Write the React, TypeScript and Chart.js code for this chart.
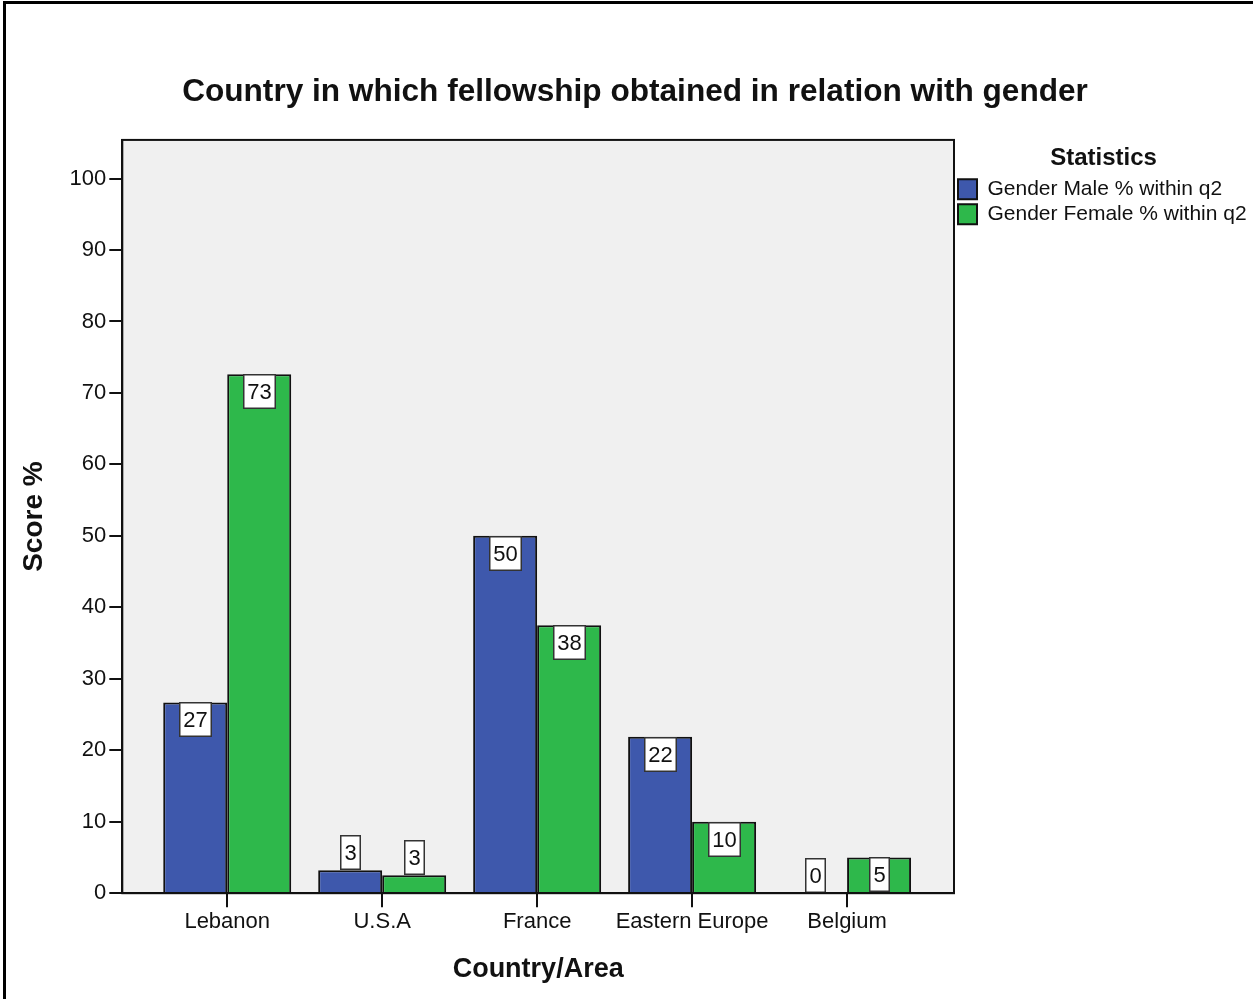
import React, { useEffect, useRef } from "react";
import { Chart, registerables } from "chart.js";

Chart.register(...registerables);

const categories = ["Lebanon", "U.S.A", "France", "Eastern Europe", "Belgium"];
const maleValues = [26.7, 3.2, 50.0, 21.9, 0];
const femaleValues = [72.6, 2.5, 37.5, 10.0, 5.0];
const seriesNames = ["Gender Male % within q2", "Gender Female % within q2"];
const yTicks = [0, 10, 20, 30, 40, 50, 60, 70, 80, 90, 100];

const FONT = "'Liberation Sans', Arial, sans-serif";

const plotFrame = {
  id: "plotFrame",
  beforeDraw(chart: any) {
    const { ctx, chartArea } = chart;
    ctx.save();
    ctx.fillStyle = "#F0F0F0";
    ctx.fillRect(chartArea.left, chartArea.top, chartArea.right - chartArea.left, chartArea.bottom - chartArea.top);
    ctx.restore();
  },
  afterDraw(chart: any) {
    const { ctx, chartArea } = chart;
    ctx.save();
    ctx.strokeStyle = "#111";
    ctx.lineWidth = 2;
    ctx.strokeRect(chartArea.left, chartArea.top, chartArea.right - chartArea.left, chartArea.bottom - chartArea.top);
    ctx.restore();
  },
};

const valueBoxes = {
  id: "valueBoxes",
  afterDatasetsDraw(chart: any) {
    const { ctx } = chart;
    ctx.save();
    ctx.font = `22px ${FONT}`;
    ctx.textAlign = "center";
    ctx.textBaseline = "middle";
    chart.data.datasets.forEach((ds: any, di: number) => {
      const meta = chart.getDatasetMeta(di);
      meta.data.forEach((el: any, i: number) => {
        const v = ds.data[i].y;
        const text = String(Math.round(v));
        const w = Math.round(ctx.measureText(text).width + 9);
        const h = 35;
        const barH = el.base - el.y;
        const top = barH >= h - 1 ? Math.round(el.y) : Math.round(el.y - h);
        const left = Math.round(el.x - w / 2);
        ctx.fillStyle = "#FFFFFF";
        ctx.fillRect(left, top, w, h);
        ctx.strokeStyle = "#333";
        ctx.lineWidth = 1.5;
        ctx.strokeRect(left + 0.75, top + 0.75, w - 1.5, h - 1.5);
        ctx.fillStyle = "#111";
        ctx.fillText(text, left + w / 2, top + h / 2 + 1);
      });
    });
    ctx.restore();
  },
};

export default function App() {
  const canvasRef = useRef<HTMLCanvasElement | null>(null);

  useEffect(() => {
    document.body.style.margin = "0";
    const canvas = canvasRef.current!;
    const chart = new Chart(canvas, {
      type: "bar",
      data: {
        datasets: [
          {
            label: seriesNames[0],
            data: maleValues.map((v, i) => ({ x: i, y: v })),
            backgroundColor: "#3E58AC",
            borderColor: "#111",
            borderWidth: 2,
            categoryPercentage: 0.826,
            barPercentage: 1,
          },
          {
            label: seriesNames[1],
            data: femaleValues.map((v, i) => ({ x: i, y: v })),
            backgroundColor: "#2EB84B",
            borderColor: "#111",
            borderWidth: 2,
            categoryPercentage: 0.826,
            barPercentage: 1,
          },
        ],
      } as any,
      options: {
        responsive: false,
        animation: false,
        layout: { padding: { left: 17, right: 0, top: 0, bottom: 11 } },
        plugins: {
          title: {
            display: true,
            text: "Country in which fellowship obtained in relation with gender",
            color: "#111",
            font: { family: FONT, size: 31.6, weight: "bold" },
            padding: { top: 73, bottom: 29 },
          },
          legend: {
            position: "right",
            align: "start",
            fullSize: false,
            maxWidth: 299,
            title: {
              display: true,
              text: "Statistics",
              color: "#111",
              font: { family: FONT, size: 24, weight: "bold" },
              padding: { top: 6, bottom: 0 },
            },
            labels: {
              boxWidth: 19,
              boxHeight: 20,
              padding: 4,
              color: "#111",
              font: { family: FONT, size: 21, lineHeight: 1.2 },
            },
          },
          tooltip: { enabled: false },
        },
        scales: {
          x: {
            type: "linear",
            offset: false,
            min: -0.677,
            max: 4.69,
            afterBuildTicks(scale: any) {
              scale.ticks = categories.map((_, i) => ({ value: i }));
            },
            ticks: {
              callback: (v: any) => categories[v as number] ?? "",
              color: "#111",
              font: { family: FONT, size: 22 },
              padding: 2,
              maxRotation: 0,
              autoSkip: false,
            },
            grid: { offset: false, drawOnChartArea: false, drawTicks: true, tickLength: 14, color: "#111", lineWidth: 2 },
            border: { display: true, color: "#111", width: 2 },
            title: {
              display: true,
              text: "Country/Area",
              color: "#111",
              font: { family: FONT, size: 27, weight: "bold" },
              padding: { top: 16, bottom: 2 },
            },
          },
          y: {
            min: 0,
            max: 105.4,
            afterBuildTicks(scale: any) {
              scale.ticks = yTicks.map((v) => ({ value: v }));
            },
            ticks: {
              color: "#111",
              font: { family: FONT, size: 22 },
              padding: 3,
            },
            grid: { drawOnChartArea: false, drawTicks: true, tickLength: 13, color: "#111", lineWidth: 2 },
            border: { display: true, color: "#111", width: 2 },
            title: {
              display: true,
              text: "Score %",
              color: "#111",
              font: { family: FONT, size: 28, weight: "bold" },
              padding: { top: 0, bottom: 16 },
            },
          },
        },
      } as any,
      plugins: [plotFrame, valueBoxes],
    });
    return () => chart.destroy();
  }, []);

  return (
    <div style={{ position: "relative", width: 1253, height: 999, background: "#fff", overflow: "hidden" }}>
      <canvas ref={canvasRef} width={1253} height={999} style={{ display: "block" }} />
      <div
        style={{
          position: "absolute",
          left: 3,
          top: 1,
          width: 1300,
          height: 1100,
          borderLeft: "3px solid #000",
          borderTop: "3px solid #000",
          pointerEvents: "none",
        }}
      />
    </div>
  );
}
